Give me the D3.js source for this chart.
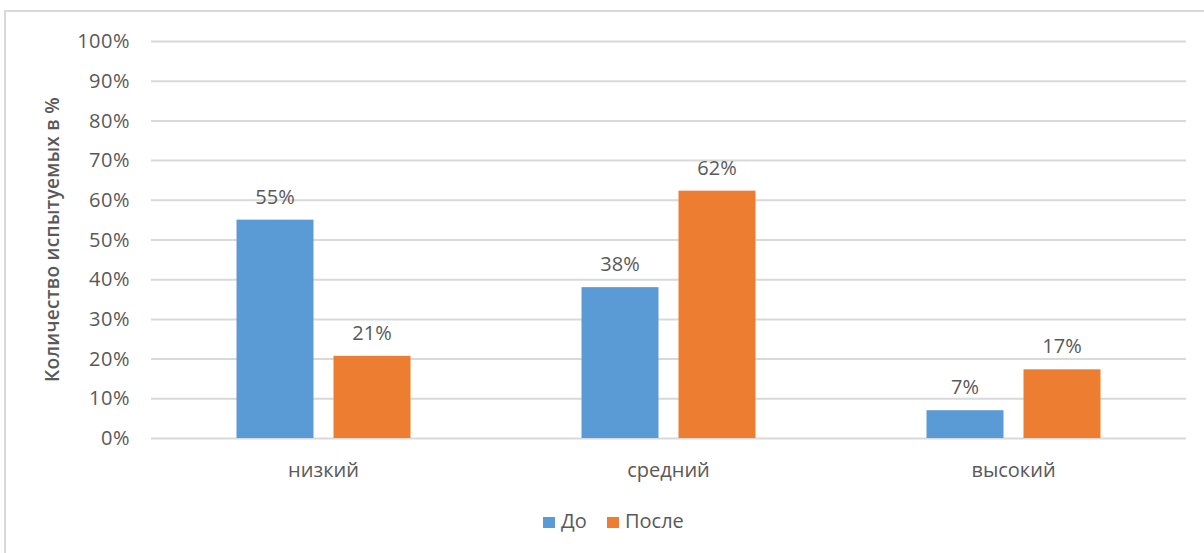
<!DOCTYPE html>
<html><head><meta charset="utf-8">
<script src="https://cdn.jsdelivr.net/npm/d3@7"></script>
<style>body{margin:0;background:#fff}svg{display:block}</style>
</head><body>
<svg id="c" width="1204" height="553"></svg>
<script>
const categories = ["низкий", "средний", "высокий"];
const seriesNames = ["До", "После"];
const valuesDo = [55, 38, 7];
const valuesPosle = [20.7, 62.3, 17.3];
const yTicks = [0, 10, 20, 30, 40, 50, 60, 70, 80, 90, 100];
const yTitle = "Количество испытуемых в %";
const colors = ["#5B9BD5", "#ED7D31"];

const svg = d3.select("#c");
const font = "'Open Sans', sans-serif";
const txt = "#595959";

svg.append("rect").attr("x", 5).attr("y", 11).attr("width", 1220).attr("height", 570)
  .attr("fill", "#fff").attr("stroke", "#d9d9d9").attr("stroke-width", 2);

const m = {l: 151, r: 1186, t: 41, b: 438};
const x = d3.scaleBand().domain(categories).range([m.l, m.r]);
const y = d3.scaleLinear().domain([0, 100]).range([m.b, m.t]);
const barW = 77, gap = 20;
const xs = d3.scaleOrdinal().domain(seriesNames).range([-(barW + gap / 2), gap / 2]);

// gridlines + tick labels
const yAxis = d3.axisLeft(y).tickValues(yTicks).tickSize(-(m.r - m.l)).tickFormat(d => d + "%").tickPadding(21);
const ga = svg.append("g").attr("transform", `translate(${m.l},0)`).call(yAxis);
ga.select(".domain").remove();
ga.selectAll(".tick line").attr("stroke", "#d9d9d9").attr("stroke-width", 2);
ga.selectAll(".tick text").attr("fill", txt).attr("dy", "0.33em").style("font-family", font)
  .style("font-size", "20px").style("letter-spacing", "0.5px");

const data = categories.map((c, i) => ({c, vals: [valuesDo[i], valuesPosle[i]]}));
const groups = svg.append("g").selectAll("g").data(data).join("g")
  .attr("transform", d => `translate(${x(d.c) + x.bandwidth() / 2},0)`);
const items = d => d.vals.map((v, j) => ({v, s: seriesNames[j], j}));
groups.selectAll("rect").data(items).join("rect")
  .attr("x", d => xs(d.s)).attr("width", barW)
  .attr("y", d => y(d.v)).attr("height", d => y(0) - y(d.v))
  .attr("fill", d => colors[d.j]);
groups.selectAll("text").data(items).join("text")
  .attr("x", d => xs(d.s) + barW / 2).attr("y", d => y(d.v) - 16)
  .attr("text-anchor", "middle").attr("fill", txt)
  .style("font-family", font).style("font-size", "20px")
  .text(d => Math.round(d.v) + "%");

// category labels
const xAxis = d3.axisBottom(x).tickSize(0).tickPadding(0);
const gx = svg.append("g").attr("transform", `translate(0,${m.b})`).call(xAxis);
gx.select(".domain").remove();
gx.selectAll(".tick text").attr("fill", txt).attr("dy", null).attr("y", 39)
  .style("font-family", font).style("font-size", "20px");

// y title
svg.append("text").attr("transform", `translate(52,${(m.t + m.b) / 2}) rotate(-90)`)
  .attr("text-anchor", "middle").attr("dy", "0.35em").attr("fill", txt)
  .style("font-family", font).style("font-size", "19px").style("font-weight", "600")
  .style("letter-spacing", "0.3px")
  .text(yTitle);

// legend
const leg = svg.append("g");
const legX = [543, 607];
seriesNames.forEach((s, i) => {
  leg.append("rect").attr("x", legX[i]).attr("y", 517).attr("width", 12).attr("height", 11).attr("fill", colors[i]);
  leg.append("text").attr("x", legX[i] + 18).attr("y", 528).attr("fill", txt)
    .style("font-family", font).style("font-size", "20px").text(s);
});
</script>
</body></html>
